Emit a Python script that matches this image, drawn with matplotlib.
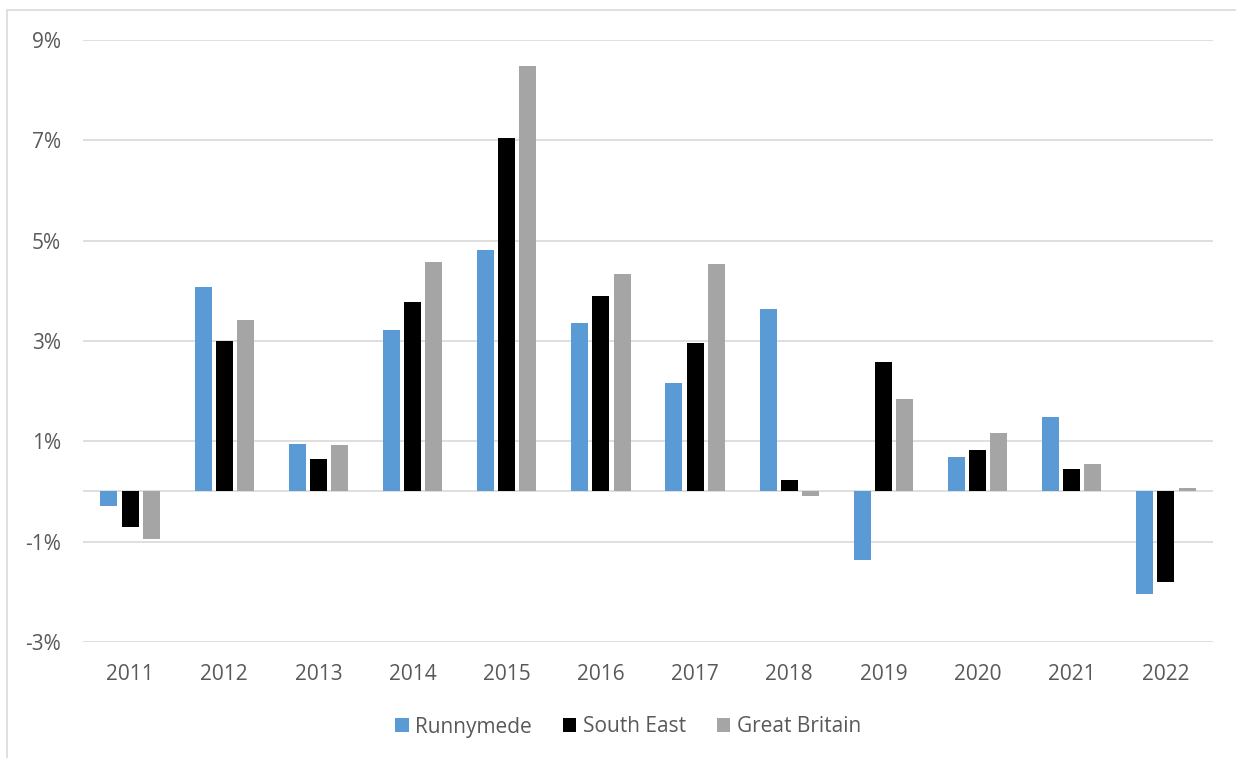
import matplotlib
matplotlib.use("Agg")
import matplotlib.pyplot as plt
import numpy as np
from matplotlib.patches import Rectangle

years = ["2011", "2012", "2013", "2014", "2015", "2016", "2017", "2018", "2019", "2020", "2021", "2022"]
runnymede = [-0.28, 4.08, 0.94, 3.22, 4.82, 3.36, 2.16, 3.64, -1.36, 0.68, 1.48, -2.04]
south_east = [-0.70, 3.00, 0.64, 3.78, 7.04, 3.90, 2.96, 0.22, 2.58, 0.82, 0.44, -1.80]
great_britain = [-0.94, 3.42, 0.92, 4.58, 8.48, 4.34, 4.54, -0.08, 1.84, 1.16, 0.54, 0.06]
series_names = ["Runnymede", "South East", "Great Britain"]
colors = ["#5B9BD5", "#000000", "#A5A5A5"]
yticks = [-3, -1, 1, 3, 5, 7, 9]

plt.rcParams['font.family'] = ['Open Sans', 'DejaVu Sans']
fig = plt.figure(figsize=(12.36, 7.58), dpi=100)
W, H = 1236, 758
ax = fig.add_axes([83 / W, 1 - 642 / H, (1213 - 83) / W, (642 - 40) / H])

x = np.arange(len(years))
width = 0.18
offs = [-0.225, 0.0, 0.225]
for vals, name, c, o in zip([runnymede, south_east, great_britain], series_names, colors, offs):
    ax.bar(x + o, vals, width, color=c, label=name, zorder=3)

ax.set_xlim(-0.5, len(years) - 0.5)
ax.set_ylim(-3, 9)
ax.set_yticks(yticks)
ax.set_yticklabels([f"{v}%" for v in yticks])
ax.set_xticks(x)
ax.set_xticklabels(years)
ax.grid(axis='y', color='#D9D9D9', linewidth=1.2, zorder=0)
ax.axhline(0, color='#D9D9D9', linewidth=1.2, zorder=2)
for s in ax.spines.values():
    s.set_visible(False)
ax.tick_params(axis='both', length=0, labelsize=15, colors='#595959')
ax.tick_params(axis='y', pad=16)
ax.tick_params(axis='x', pad=16)

leg = fig.legend(loc='center', bbox_to_anchor=(628 / W, 1 - 727 / H), ncol=3, frameon=False,
                 fontsize=15, handlelength=0.65, handleheight=0.65, handletextpad=0.3, columnspacing=1.5)
for t in leg.get_texts():
    t.set_color('#595959')

fig.patches.append(Rectangle((7 / W, -0.1), 1.2, 1 - 10 / H + 0.1, transform=fig.transFigure,
                             fill=False, edgecolor='#D9D9D9', linewidth=1.2))

fig.savefig("out.png", dpi=100, facecolor='white')
